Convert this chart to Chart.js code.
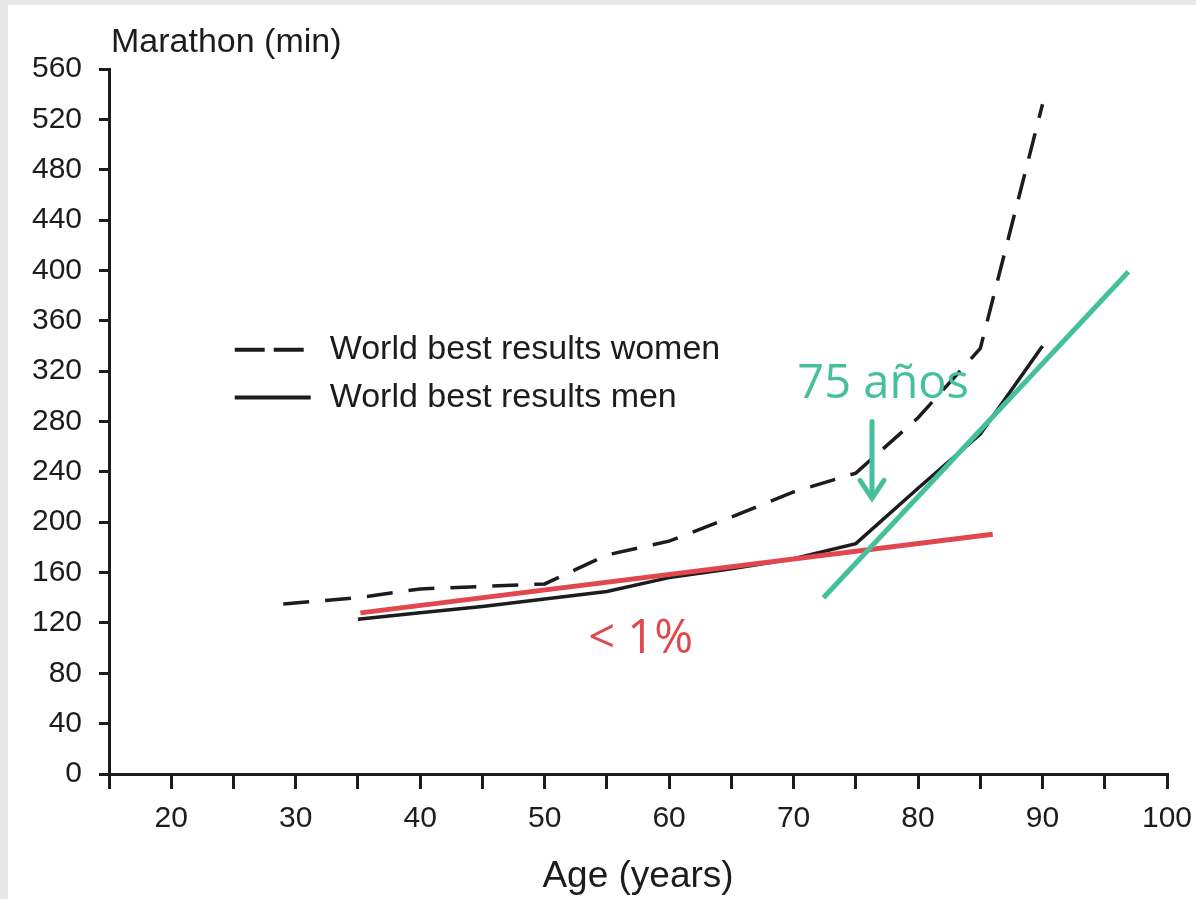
<!doctype html>
<html lang="es">
<head>
  <meta charset="utf-8">
  <title>Marathon (min)</title>
  <style>
    body { margin: 0; background: #e8e8e8; }
    #lienzo { position: absolute; left: 8px; top: 5px; background: #fff; }
  </style>
</head>
<body>
  <canvas id="lienzo" width="1188" height="894"></canvas>

  <script src="https://cdn.jsdelivr.net/npm/chart.js"></script>
  <script>
    // Datos
    const edadesMujeres = [29, 35, 40, 45, 50, 55, 60, 65, 70, 75, 80, 85, 90];
    const mujeres = [135, 140, 147, 149, 151, 174, 185, 204, 224, 239, 283, 338, 532];
    const edadesHombres = [35, 40, 45, 50, 55, 60, 65, 70, 75, 80, 85, 90];
    const hombres = [123, 128, 133, 139, 145, 156, 163, 171, 183, 227, 270, 340];

    // Rectas de tendencia y flecha
    const edadesRoja = [35.2, 86];
    const tendenciaRoja = [128, 190.5];
    const edadesVerde = [72.4, 96.9];
    const tendenciaVerde = [140, 399];
    const flechaEdad = [76.3, 76.3];
    const flechaValor = [280, 219];

    // Ejes
    const marcasX = [15, 20, 25, 30, 35, 40, 45, 50, 55, 60, 65, 70, 75, 80, 85, 90, 95, 100];
    const etiquetasX = [20, 30, 40, 50, 60, 70, 80, 90, 100];
    const marcasY = [0, 40, 80, 120, 160, 200, 240, 280, 320, 360, 400, 440, 480, 520, 560];

    const puntos = (xs, ys) => xs.map((x, i) => ({ x: x, y: ys[i] }));

    const fuente = '"Liberation Sans", Arial, Helvetica, sans-serif';
    const tinta = '#1c1c1c';
    const rojo = '#e0484d';
    const verde = '#46bf9d';

    const anotaciones = {
      id: 'anotaciones',
      afterDatasetsDraw(chart) {
        const { ctx, scales: { x, y }, chartArea } = chart;
        ctx.save();

        // titulo del eje y
        ctx.fillStyle = tinta;
        ctx.font = '34px ' + fuente;
        ctx.textBaseline = 'alphabetic';
        ctx.fillText('Marathon (min)', chartArea.left + 2, 47);

        // leyenda
        const lx0 = x.getPixelForValue(25.1);
        const ly1 = y.getPixelForValue(337);
        const ly2 = y.getPixelForValue(299);
        ctx.strokeStyle = tinta;
        ctx.lineWidth = 4;
        ctx.setLineDash([30, 9]);
        ctx.beginPath(); ctx.moveTo(lx0, ly1); ctx.lineTo(lx0 + 71, ly1); ctx.stroke();
        ctx.setLineDash([]);
        ctx.beginPath(); ctx.moveTo(lx0, ly2); ctx.lineTo(lx0 + 76, ly2); ctx.stroke();
        ctx.font = '34px ' + fuente;
        ctx.textBaseline = 'middle';
        ctx.fillText('World best results women', lx0 + 95, ly1);
        ctx.fillText('World best results men', lx0 + 95, ly2);

        // flecha verde
        const ax = x.getPixelForValue(flechaEdad[0]);
        const ay0 = y.getPixelForValue(flechaValor[0]);
        const ay1 = y.getPixelForValue(flechaValor[1]);
        ctx.strokeStyle = verde;
        ctx.lineWidth = 5;
        ctx.lineCap = 'round';
        ctx.beginPath(); ctx.moveTo(ax, ay0); ctx.lineTo(ax, ay1 - 2); ctx.stroke();
        ctx.beginPath(); ctx.moveTo(ax - 12, ay1 - 18); ctx.lineTo(ax, ay1); ctx.lineTo(ax + 12, ay1 - 18); ctx.stroke();

        // textos
        ctx.font = '47px "Open Sans", sans-serif';
        ctx.textBaseline = 'alphabetic';
        ctx.fillStyle = verde;
        ctx.fillText('75 años', x.getPixelForValue(70.3), y.getPixelForValue(299));
        ctx.fillStyle = rojo;
        ctx.fillText('< 1%', x.getPixelForValue(53.5), y.getPixelForValue(96));
        ctx.restore();
      }
    };

    const lienzo = document.getElementById('lienzo');
    const grafico = new Chart(lienzo, {
      type: 'line',
      data: {
        datasets: [{
          label: 'World best results women',
          data: puntos(edadesMujeres, mujeres),
          borderColor: tinta,
          borderWidth: 3.5,
          borderDash: [26, 16],
          order: 3
        }, {
          label: 'World best results men',
          data: puntos(edadesHombres, hombres),
          borderColor: tinta,
          borderWidth: 3.5,
          order: 2
        }, {
          label: '< 1%',
          data: puntos(edadesRoja, tendenciaRoja),
          borderColor: rojo,
          borderWidth: 5,
          order: 1
        }, {
          label: '75 años',
          data: puntos(edadesVerde, tendenciaVerde),
          borderColor: verde,
          borderWidth: 5,
          order: 0
        }]
      },
      options: {
        responsive: false,
        animation: false,
        layout: { padding: { left: 0, top: 64, right: 29, bottom: 0 } },
        elements: { point: { radius: 0 }, line: { tension: 0, fill: false } },
        plugins: {
          legend: { display: false },
          tooltip: { enabled: false }
        },
        scales: {
          x: {
            type: 'linear',
            min: 15,
            max: 100,
            afterFit: s => { s.height = 125; s.paddingLeft = 0; s.paddingRight = 0; },
            afterBuildTicks: s => { s.ticks = marcasX.map(v => ({ value: v })); },
            border: { display: true, color: tinta, width: 3 },
            grid: { drawOnChartArea: false, drawTicks: true, tickLength: 15, lineWidth: 3, tickWidth: 3, color: tinta, tickColor: tinta },
            ticks: {
              autoSkip: false,
              maxRotation: 0,
              padding: 12,
              color: tinta,
              font: { family: fuente, size: 30 },
              callback: v => etiquetasX.includes(v) ? String(v) : ''
            },
            title: {
              display: true,
              text: 'Age (years)',
              color: tinta,
              font: { family: fuente, size: 37 },
              padding: { top: 0, bottom: 0 }
            }
          },
          y: {
            min: 0,
            max: 560,
            afterFit: s => { s.width = 101; s.paddingTop = 0; s.paddingBottom = 0; },
            afterBuildTicks: s => { s.ticks = marcasY.map(v => ({ value: v })); },
            border: { display: true, color: tinta, width: 3 },
            grid: { drawOnChartArea: false, drawTicks: true, tickLength: 10, lineWidth: 3, tickWidth: 3, color: tinta, tickColor: tinta },
            ticks: {
              padding: 17,
              color: tinta,
              font: { family: fuente, size: 30 }
            }
          }
        }
      },
      plugins: [anotaciones]
    });
  </script>
</body>
</html>
